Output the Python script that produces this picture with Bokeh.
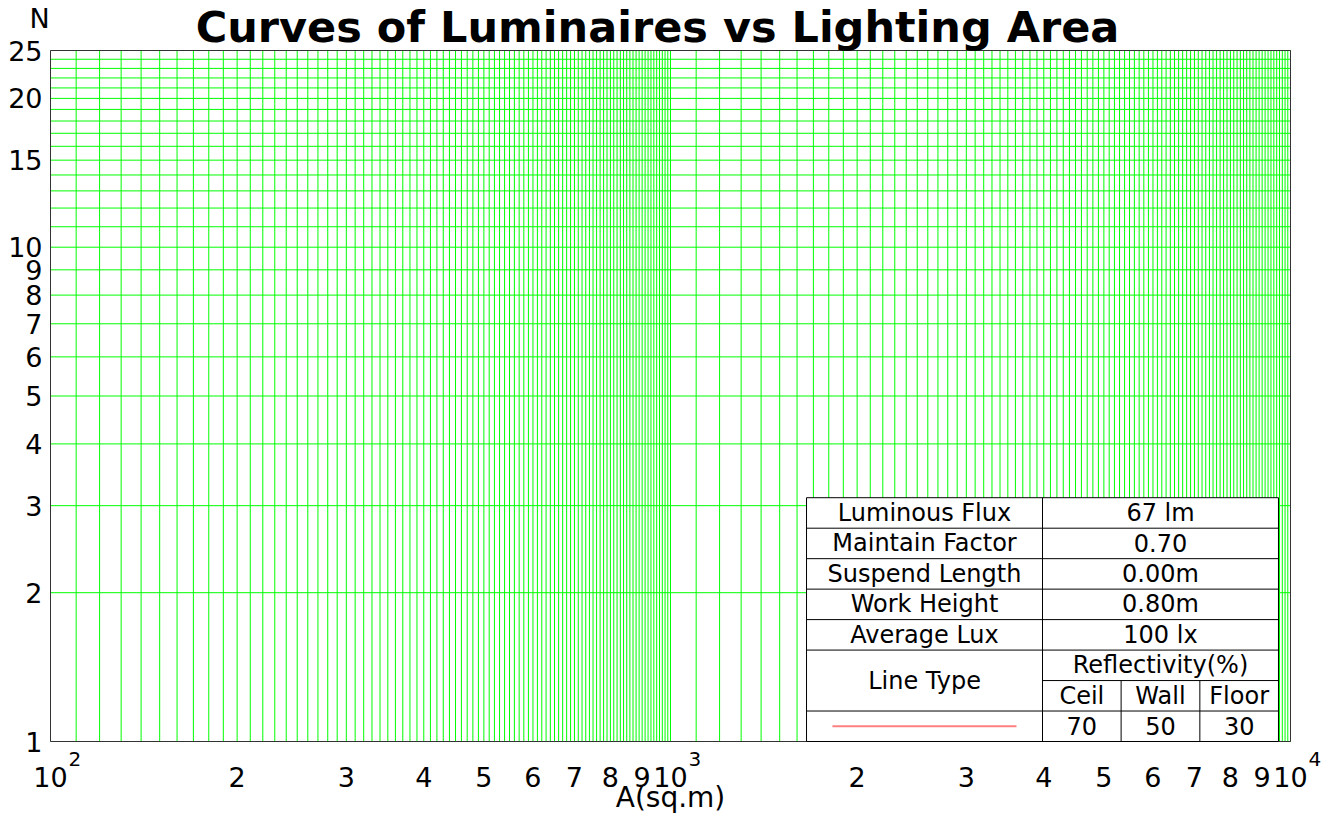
import math
from bokeh.plotting import figure
from bokeh.models import Range1d, FixedTicker, Label
from bokeh.core.properties import value
from bokeh.embed import file_html
from bokeh.resources import INLINE

# ---------------- data ----------------
title_text = "Curves of Luminaires vs Lighting Area"
x_axis_title = "A(sq.m)"
y_axis_title = "N"

x_ticks = [100, 200, 300, 400, 500, 600, 700, 800, 900,
           1000, 2000, 3000, 4000, 5000, 6000, 7000, 8000, 9000, 10000]
x_tick_labels = ["10", "2", "3", "4", "5", "6", "7", "8", "9",
                 "10", "2", "3", "4", "5", "6", "7", "8", "9", "10"]
x_decades = [100, 1000, 10000]
x_decade_exponents = ["2", "3", "4"]

y_ticks = [1, 2, 3, 4, 5, 6, 7, 8, 9, 10, 15, 20, 25]
y_tick_labels = ["1", "2", "3", "4", "5", "6", "7", "8", "9", "10", "15", "20", "25"]

x_grid_values = list(range(100, 1000, 10)) + list(range(1000, 10001, 100))
y_grid_values = list(range(1, 26))

param_names = ["Luminous Flux", "Maintain Factor", "Suspend Length", "Work Height", "Average Lux"]
param_values = ["67 lm", "0.70", "0.00m", "0.80m", "100 lx"]
line_type_header = "Line Type"
reflectivity_header = "Reflectivity(%)"
reflectivity_columns = ["Ceil", "Wall", "Floor"]
reflectivity_values = ["70", "50", "30"]

X_MIN, X_MAX = 100, 10000
Y_MIN, Y_MAX = 1, 25

# ---------------- layout / styles ----------------
W, H = 1336, 816
M_LEFT, M_RIGHT, M_TOP, M_BOTTOM = 50, 46, 50, 75
FONT = "DejaVu Sans"
GRID_COLOR = "#00ff00"
FRAME_COLOR = "#333333"
CURVE_COLOR = "#ff8080"

# the frame covers the whole canvas; the chart area sits inside it with margins
px_per_dec_x = (W - M_LEFT - M_RIGHT) / (math.log10(X_MAX) - math.log10(X_MIN))
px_per_dec_y = (H - M_TOP - M_BOTTOM) / (math.log10(Y_MAX) - math.log10(Y_MIN))
x_range = Range1d(X_MIN / 10 ** (M_LEFT / px_per_dec_x), X_MAX * 10 ** (M_RIGHT / px_per_dec_x))
y_range = Range1d(Y_MIN / 10 ** (M_BOTTOM / px_per_dec_y), Y_MAX * 10 ** (M_TOP / px_per_dec_y))

p = figure(width=W, height=H, x_axis_type="log", y_axis_type="log",
           x_range=x_range, y_range=y_range,
           output_backend="svg", toolbar_location=None,
           min_border=0, min_border_left=0, min_border_right=0,
           min_border_top=0, min_border_bottom=0)
p.background_fill_color = "white"
p.border_fill_color = "white"
p.outline_line_color = None
p.xgrid.visible = False
p.ygrid.visible = False

# grid lines (log paper)
p.segment(x0=x_grid_values, y0=[Y_MIN] * len(x_grid_values),
          x1=x_grid_values, y1=[Y_MAX] * len(x_grid_values),
          line_color=GRID_COLOR, line_width=1)
p.segment(x0=[X_MIN] * len(y_grid_values), y0=y_grid_values,
          x1=[X_MAX] * len(y_grid_values), y1=y_grid_values,
          line_color=GRID_COLOR, line_width=1)
# chart border
p.quad(left=[X_MIN], right=[X_MAX], bottom=[Y_MIN], top=[Y_MAX],
       fill_color=None, line_color=FRAME_COLOR, line_width=1)

# axes fixed at the chart edges
p.xaxis.fixed_location = Y_MIN
p.yaxis.fixed_location = X_MIN
p.xaxis.bounds = (X_MIN, X_MAX)
p.yaxis.bounds = (Y_MIN, Y_MAX)
p.xaxis.ticker = FixedTicker(ticks=x_ticks)
p.xaxis.major_label_overrides = {t: l for t, l in zip(x_ticks, x_tick_labels)}
p.yaxis.ticker = FixedTicker(ticks=y_ticks)
p.yaxis.major_label_overrides = {t: l for t, l in zip(y_ticks, y_tick_labels)}
for ax in (p.xaxis, p.yaxis):
    ax.axis_line_color = None
    ax.major_tick_line_color = None
    ax.minor_tick_line_color = None
    ax.major_tick_out = 0
    ax.major_tick_in = 0
    ax.minor_tick_out = 0
    ax.major_label_text_font = FONT
    ax.major_label_text_font_size = "27px"
    ax.major_label_text_color = "black"
p.xaxis.major_label_standoff = 25
p.yaxis.major_label_standoff = 8

# superscripts of decade labels
for d, e in zip(x_decades, x_decade_exponents):
    p.add_layout(Label(x=d, y=Y_MIN, text=e, x_offset=18, y_offset=-17,
                       text_align="left", text_baseline="alphabetic",
                       text_font=FONT, text_font_size="20px", text_color="black"))

# axis titles and chart title
p.add_layout(Label(x=1000, y=Y_MIN, text=x_axis_title, y_offset=-56,
                   text_align="center", text_baseline="alphabetic",
                   text_font=FONT, text_font_size="28px", text_color="black"))
p.add_layout(Label(x=X_MIN, y=Y_MAX, text=y_axis_title, x_offset=-11, y_offset=32,
                   text_align="center", text_baseline="alphabetic",
                   text_font=FONT, text_font_size="27px", text_color="black"))
p.add_layout(Label(x=1000, y=Y_MAX, text=title_text, x_offset=-13, y_offset=24,
                   text_align="center", text_baseline="alphabetic",
                   text_font=FONT, text_font_size="43px", text_font_style="bold",
                   text_color="black"))

# ---------------- table (positions as fractions of the chart area) ----------------
def fx(f):
    return X_MIN * (X_MAX / X_MIN) ** f

def fy(f):
    return Y_MIN * (Y_MAX / Y_MIN) ** f

TL, TM, C1, C2, TR = 0.6097, 0.80, 0.8634, 0.9269, 0.9903
RH = 0.0441
n_rows = len(param_names) + 3

p.quad(left=[fx(TL)], right=[fx(TR)], bottom=[fy(0)], top=[fy(n_rows * RH)],
       fill_color="white", line_color="black", line_width=1)

hx0, hx1, hy = [], [], []
for k in range(1, n_rows):
    left = TM if k == 2 else TL
    hx0.append(fx(left)); hx1.append(fx(TR)); hy.append(fy(k * RH))
p.segment(x0=hx0, y0=hy, x1=hx1, y1=hy, line_color="black", line_width=1)

vx = [fx(TM), fx(C1), fx(C2)]
vy0 = [fy(0)] * 3
vy1 = [fy(n_rows * RH), fy(2 * RH), fy(2 * RH)]
p.segment(x0=vx, y0=vy0, x1=vx, y1=vy1, line_color="black", line_width=1)

tx, ty, tt = [], [], []
left_c = fx((TL + TM) / 2)
right_c = fx((TM + TR) / 2)
for i, (n, v) in enumerate(zip(param_names, param_values)):
    k = n_rows - 1 - i
    yc = fy((k + 0.5) * RH)
    tx += [left_c, right_c]; ty += [yc, yc]; tt += [n, v]
tx.append(left_c); ty.append(fy(2 * RH)); tt.append(line_type_header)
tx.append(right_c); ty.append(fy(2.5 * RH)); tt.append(reflectivity_header)
sub_edges = [TM, C1, C2, TR]
for j in range(3):
    cx = fx((sub_edges[j] + sub_edges[j + 1]) / 2)
    tx.append(cx); ty.append(fy(1.5 * RH)); tt.append(reflectivity_columns[j])
    tx.append(cx); ty.append(fy(0.5 * RH)); tt.append(reflectivity_values[j])
p.text(x=tx, y=ty, text=tt, text_align="center", text_baseline="middle",
       text_font=value(FONT), text_font_size="24px", text_color="black")

# line type sample
p.line(x=[fx(0.6306), fx(0.779)], y=[fy(0.5 * RH), fy(0.5 * RH)],
       line_color=CURVE_COLOR, line_width=2)

open("out.html", "w").write(file_html(p, INLINE))
